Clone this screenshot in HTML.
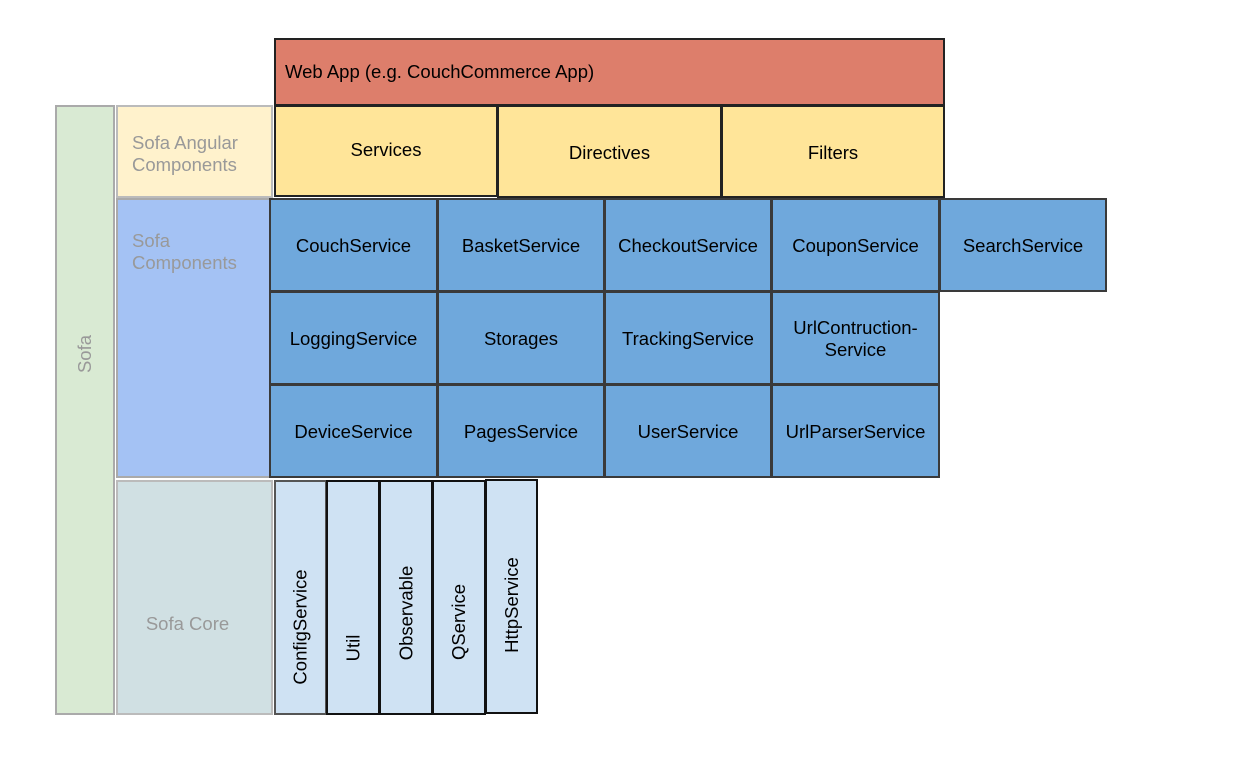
<!DOCTYPE html>
<html><head><meta charset="utf-8"><style>
body{margin:0;width:1242px;height:766px;background:#fff;position:relative;overflow:hidden;font-family:"Liberation Sans",sans-serif;}
.b{position:absolute;box-sizing:border-box;display:flex;align-items:center;justify-content:center;text-align:center;font-size:18.5px;color:#000;}
.g{color:#999;justify-content:flex-start;padding-left:14px;text-align:left;line-height:22px;}
.bl{background:#6fa8dc;border:2px solid #3a3a3a;padding-top:2px;}
.y{background:#ffe599;border:2px solid #222;}
.c{background:#cfe2f3;border:2px solid #111;}
.v span{transform:rotate(-90deg);white-space:nowrap;display:block;}
</style></head><body>
<div class="b" style="left:55px;top:105px;width:60px;height:610px;background:#d9ead3;border:2px solid #aaa;color:#999;padding-bottom:112px;"><span style="transform:rotate(-90deg);display:block">Sofa</span></div>
<div class="b g" style="left:116px;top:105px;width:157px;height:93px;background:#fff2cc;border:2px solid #bbb;padding-top:4px;">Sofa Angular<br>Components</div>
<div class="b g" style="left:116px;top:198px;width:155px;height:280px;background:#a4c2f4;border:2px solid #aaa;align-items:flex-start;padding-top:30px;">Sofa<br>Components</div>
<div class="b" style="left:116px;top:480px;width:157px;height:235px;background:#d0e0e3;border:2px solid #bbb;color:#999;padding-top:52px;padding-right:14px;">Sofa Core</div>
<div class="b" style="left:274px;top:38px;width:671px;height:68px;background:#dd7e6b;border:2px solid #222;justify-content:flex-start;padding-left:9px;">Web App (e.g. CouchCommerce App)</div>
<div class="b y" style="left:274px;top:105px;width:224px;height:92px;padding-bottom:2px;">Services</div>
<div class="b y" style="left:497px;top:105px;width:225px;height:93px;padding-top:2px;">Directives</div>
<div class="b y" style="left:721px;top:105px;width:224px;height:93px;padding-top:2px;">Filters</div>
<div class="b bl" style="left:269px;top:198px;width:169px;height:94px;">CouchService</div>
<div class="b bl" style="left:437px;top:198px;width:168px;height:94px;">BasketService</div>
<div class="b bl" style="left:604px;top:198px;width:168px;height:94px;">CheckoutService</div>
<div class="b bl" style="left:771px;top:198px;width:169px;height:94px;">CouponService</div>
<div class="b bl" style="left:939px;top:198px;width:168px;height:94px;">SearchService</div>
<div class="b bl" style="left:269px;top:291px;width:169px;height:94px;">LoggingService</div>
<div class="b bl" style="left:437px;top:291px;width:168px;height:94px;">Storages</div>
<div class="b bl" style="left:604px;top:291px;width:168px;height:94px;">TrackingService</div>
<div class="b bl" style="left:771px;top:291px;width:169px;height:94px;line-height:22px;">UrlContruction-<br>Service</div>
<div class="b bl" style="left:269px;top:384px;width:169px;height:94px;">DeviceService</div>
<div class="b bl" style="left:437px;top:384px;width:168px;height:94px;">PagesService</div>
<div class="b bl" style="left:604px;top:384px;width:168px;height:94px;">UserService</div>
<div class="b bl" style="left:771px;top:384px;width:169px;height:94px;">UrlParserService</div>
<div class="b c v" style="left:274px;top:480px;width:53px;height:235px;border-color:#555;padding-top:58px;"><span>ConfigService</span></div>
<div class="b c v" style="left:326px;top:480px;width:54px;height:235px;padding-top:100px;"><span>Util</span></div>
<div class="b c v" style="left:379px;top:480px;width:54px;height:235px;padding-top:30px;"><span>Observable</span></div>
<div class="b c v" style="left:432px;top:480px;width:54px;height:235px;padding-top:48px;"><span>QService</span></div>
<div class="b c v" style="left:485px;top:479px;width:53px;height:235px;padding-top:16px;"><span>HttpService</span></div>
</body></html>
